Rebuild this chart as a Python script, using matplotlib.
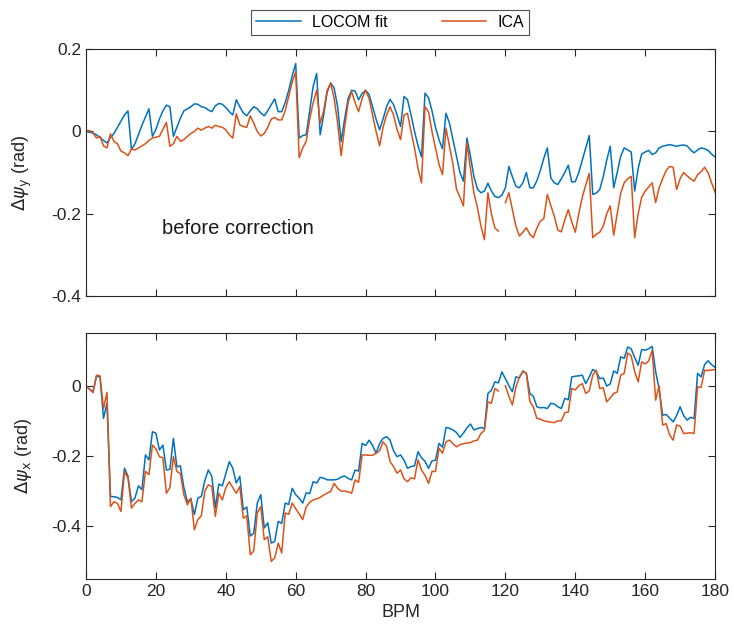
import numpy as np
import matplotlib
matplotlib.use("Agg")
import matplotlib.pyplot as plt

plt.rcParams["font.family"] = ["Liberation Sans", "DejaVu Sans"]
plt.rcParams["mathtext.fontset"] = "dejavusans"

nan = np.nan
bpm = np.arange(181)

# Phase-advance difference in y (before correction)
psi_y_locom = [
    0.000, -0.002, -0.004, -0.008, -0.015, -0.022, -0.028, -0.015, -0.005, 0.010,
    0.025, 0.040, 0.050, -0.044, -0.030, -0.008, 0.015, 0.035, 0.055, -0.012,
    0.005, 0.030, 0.050, 0.064, 0.060, -0.012, 0.010, 0.032, 0.050, 0.055,
    0.060, 0.067, 0.066, 0.060, 0.058, 0.052, 0.048, 0.062, 0.068, 0.066,
    0.058, 0.048, 0.040, 0.077, 0.060, 0.045, 0.038, 0.050, 0.060, 0.055,
    0.045, 0.038, 0.050, 0.065, 0.079, 0.048, 0.048, 0.070, 0.100, 0.135,
    0.165, -0.016, -0.010, -0.008, 0.050, 0.110, 0.141, -0.008, 0.040, 0.095,
    0.118, 0.105, 0.060, -0.025, 0.030, 0.080, 0.100, 0.098, 0.077, 0.092,
    0.100, 0.090, 0.060, 0.030, 0.004, 0.030, 0.060, 0.078, 0.065, 0.040,
    0.012, 0.085, 0.077, 0.040, 0.000, -0.035, -0.062, 0.093, 0.082, 0.050,
    0.010, -0.020, -0.042, 0.044, 0.020, -0.020, -0.060, -0.100, -0.121, -0.016,
    -0.060, -0.110, -0.140, -0.149, -0.145, -0.126, -0.145, -0.158, -0.161, -0.155,
    -0.137, -0.085, -0.110, -0.133, -0.137, -0.125, -0.100, -0.137, -0.137, -0.120,
    -0.095, -0.065, -0.040, -0.113, -0.125, -0.129, -0.115, -0.100, -0.082, -0.123,
    -0.122, -0.100, -0.070, -0.040, -0.010, -0.153, -0.150, -0.141, -0.110, -0.070,
    -0.036, -0.137, -0.100, -0.060, -0.040, -0.045, -0.050, -0.145, -0.090, -0.055,
    -0.050, -0.046, -0.056, -0.052, -0.040, -0.036, -0.034, -0.032, -0.034, -0.036,
    -0.034, -0.033, -0.035, -0.045, -0.052, -0.045, -0.040, -0.042, -0.046, -0.055,
    -0.062,
]

psi_y_ica = [
    0.002, 0.002, -0.004, -0.016, -0.012, -0.035, -0.040, -0.006, -0.024, -0.030,
    -0.048, -0.052, -0.059, -0.043, -0.045, -0.040, -0.035, -0.030, -0.022, -0.016,
    -0.014, -0.012, 0.005, 0.022, -0.036, -0.030, -0.012, -0.024, -0.020, -0.012,
    -0.005, 0.000, 0.008, 0.003, 0.008, 0.012, 0.008, 0.015, 0.012, 0.010,
    0.004, -0.008, -0.016, 0.043, 0.016, 0.012, 0.010, 0.038, 0.020, 0.000,
    -0.011, -0.005, 0.010, 0.030, 0.034, 0.028, 0.028, 0.050, 0.085, 0.120,
    0.145, -0.064, -0.040, -0.024, 0.030, 0.070, 0.100, 0.020, 0.050, 0.100,
    0.117, 0.080, 0.020, -0.059, 0.010, 0.070, 0.097, 0.070, 0.048, 0.080,
    0.100, 0.080, 0.040, 0.000, -0.035, 0.010, 0.040, 0.060, 0.040, 0.005,
    -0.020, 0.040, 0.044, 0.000, -0.040, -0.090, -0.125, 0.060, 0.048, 0.000,
    -0.040, -0.080, -0.105, 0.008, -0.036, -0.080, -0.140, -0.160, -0.181, -0.028,
    -0.090, -0.150, -0.185, -0.230, -0.263, -0.149, -0.200, -0.235, -0.242, nan,
    -0.173, -0.149, -0.190, -0.230, -0.254, -0.245, -0.234, -0.250, -0.258, -0.235,
    -0.218, -0.212, -0.153, -0.180, -0.206, -0.240, -0.244, -0.215, -0.190, -0.220,
    -0.245, -0.200, -0.160, -0.130, -0.102, -0.258, -0.250, -0.245, -0.230, -0.200,
    -0.181, -0.252, -0.200, -0.150, -0.125, -0.115, -0.109, -0.258, -0.200, -0.160,
    -0.145, -0.135, -0.125, -0.173, -0.137, -0.115, -0.095, -0.085, -0.087, -0.141,
    -0.115, -0.100, -0.108, -0.115, -0.121, -0.105, -0.098, -0.087, -0.100, -0.125,
    -0.148,
]

# Phase-advance difference in x
psi_x_locom = [
    0.000, -0.010, -0.017, 0.027, 0.025, -0.093, -0.050, -0.315, -0.316, -0.318,
    -0.325, -0.235, -0.257, -0.330, -0.320, -0.285, -0.296, -0.197, -0.211, -0.131,
    -0.135, -0.183, -0.169, -0.240, -0.238, -0.150, -0.231, -0.228, -0.290, -0.330,
    -0.322, -0.367, -0.320, -0.315, -0.270, -0.240, -0.258, -0.348, -0.280, -0.285,
    -0.250, -0.216, -0.235, -0.277, -0.258, -0.353, -0.345, -0.428, -0.420, -0.334,
    -0.310, -0.405, -0.390, -0.448, -0.443, -0.386, -0.392, -0.334, -0.338, -0.292,
    -0.310, -0.320, -0.334, -0.305, -0.307, -0.273, -0.277, -0.261, -0.263, -0.268,
    -0.268, -0.268, -0.266, -0.260, -0.257, -0.264, -0.268, -0.240, -0.243, -0.164,
    -0.170, -0.155, -0.170, -0.192, -0.165, -0.150, -0.145, -0.155, -0.185, -0.202,
    -0.197, -0.212, -0.235, -0.230, -0.228, -0.188, -0.205, -0.215, -0.235, -0.214,
    -0.212, -0.164, -0.175, -0.119, -0.121, -0.126, -0.133, -0.147, -0.135, -0.120,
    -0.109, -0.126, -0.122, -0.119, -0.122, -0.022, -0.013, 0.011, 0.008, 0.039,
    0.020, 0.000, -0.017, 0.025, 0.022, 0.042, 0.035, -0.022, -0.030, -0.060,
    -0.063, -0.062, -0.065, -0.050, -0.052, -0.060, -0.065, -0.036, -0.040, 0.025,
    0.027, 0.028, 0.030, 0.006, 0.025, 0.046, 0.040, 0.020, 0.022, -0.001,
    0.005, 0.042, 0.035, 0.082, 0.078, 0.110, 0.105, 0.080, 0.058, 0.103,
    0.101, 0.105, 0.112, 0.040, -0.010, -0.084, -0.082, -0.092, -0.103, -0.085,
    -0.060, -0.085, -0.098, -0.090, -0.093, 0.035, 0.025, 0.060, 0.071, 0.060,
    0.052,
]

psi_x_ica = [
    0.000, -0.010, -0.020, 0.030, 0.028, -0.065, -0.019, -0.344, -0.330, -0.335,
    -0.358, -0.244, -0.262, -0.348, -0.335, -0.325, -0.330, -0.244, -0.253, -0.169,
    -0.180, -0.202, -0.205, -0.306, -0.290, -0.202, -0.244, -0.250, -0.310, -0.339,
    -0.320, -0.410, -0.381, -0.370, -0.300, -0.282, -0.287, -0.372, -0.306, -0.325,
    -0.290, -0.273, -0.290, -0.306, -0.287, -0.377, -0.370, -0.481, -0.470, -0.362,
    -0.344, -0.438, -0.430, -0.500, -0.490, -0.448, -0.476, -0.362, -0.366, -0.334,
    -0.350, -0.365, -0.381, -0.345, -0.332, -0.325, -0.322, -0.318, -0.311, -0.306,
    -0.301, -0.278, -0.292, -0.300, -0.300, -0.302, -0.306, -0.268, -0.275, -0.197,
    -0.197, -0.198, -0.198, -0.192, -0.185, -0.160, -0.172, -0.216, -0.230, -0.249,
    -0.240, -0.265, -0.273, -0.262, -0.265, -0.211, -0.240, -0.255, -0.278, -0.244,
    -0.244, -0.178, -0.192, -0.160, -0.155, -0.165, -0.174, -0.168, -0.165, -0.163,
    -0.162, -0.157, -0.155, -0.136, -0.127, -0.046, -0.050, -0.008, -0.015, nan,
    0.000, -0.030, -0.055, -0.005, 0.025, 0.040, 0.035, -0.045, -0.060, -0.093,
    -0.095, -0.100, -0.102, -0.104, -0.105, -0.100, -0.100, -0.077, -0.075, -0.008,
    -0.012, 0.000, 0.006, -0.022, -0.015, 0.030, 0.044, -0.008, -0.006, -0.046,
    -0.035, -0.022, -0.018, 0.030, 0.035, 0.093, 0.085, 0.040, 0.011, 0.068,
    0.062, 0.070, 0.101, -0.041, 0.000, -0.112, -0.108, -0.140, -0.155, -0.112,
    -0.115, -0.136, -0.135, -0.134, -0.136, -0.003, -0.005, 0.044, 0.043, 0.045,
    0.046,
]

series_labels = ["LOCOM fit", "ICA"]
x_ticks = [0, 20, 40, 60, 80, 100, 120, 140, 160, 180]
top_yticks = [-0.4, -0.2, 0, 0.2]
bottom_yticks = [-0.4, -0.2, 0]

blue = "#0072BD"
orange = "#D95319"
axis_grey = "#262626"

fig = plt.figure(figsize=(7.34, 6.38), dpi=100)
ax_top = fig.add_axes([0.1172, 0.536, 0.857, 0.387])
ax_bot = fig.add_axes([0.1172, 0.0925, 0.857, 0.3856])


def fmt(v):
    return "0" if v == 0 else f"{v:g}"


for ax in (ax_top, ax_bot):
    ax.set_xlim(0, 180)
    ax.set_xticks(x_ticks)
    ax.tick_params(direction="in", top=True, right=True, length=5,
                   width=0.8, colors=axis_grey, labelsize=12.5)
    for s in ax.spines.values():
        s.set_color(axis_grey)
        s.set_linewidth(0.8)

l1, = ax_top.plot(bpm, psi_y_locom, color=blue, lw=1.1, label=series_labels[0])
l2, = ax_top.plot(bpm, psi_y_ica, color=orange, lw=1.1, label=series_labels[1])
ax_top.set_ylim(-0.4, 0.2)
ax_top.set_yticks(top_yticks)
ax_top.set_yticklabels([fmt(v) for v in top_yticks])
ax_top.set_xticklabels([])
ax_top.set_ylabel(r"$\Delta\psi_{\mathrm{y}}$ (rad)", fontsize=13, color=axis_grey)
ax_top.text(21.8, -0.237, "before correction", fontsize=14.5,
            color="#1a1a1a", ha="left", va="center")

ax_bot.plot(bpm, psi_x_locom, color=blue, lw=1.1)
ax_bot.plot(bpm, psi_x_ica, color=orange, lw=1.1)
ax_bot.set_ylim(-0.55, 0.15)
ax_bot.set_yticks(bottom_yticks)
ax_bot.set_yticklabels([fmt(v) for v in bottom_yticks])
ax_bot.set_xticklabels([str(v) for v in x_ticks])
ax_bot.set_xlabel("BPM", fontsize=13, color=axis_grey)
ax_bot.set_ylabel(r"$\Delta\psi_{\mathrm{x}}$ (rad)", fontsize=13, color=axis_grey)

for ax in (ax_top, ax_bot):
    ax.yaxis.set_label_coords(-0.082, 0.5)

leg = fig.legend(handles=[l1, l2], loc="center", ncol=2,
                 bbox_to_anchor=(0.5315, 1 - 22.5 / 638), fontsize=11.5,
                 frameon=True, fancybox=False, handlelength=2.8,
                 columnspacing=3.4, handletextpad=0.7, borderpad=0.3)
leg.get_frame().set_edgecolor(axis_grey)
leg.get_frame().set_linewidth(0.8)

fig.savefig("out.png", dpi=100, facecolor="white")
